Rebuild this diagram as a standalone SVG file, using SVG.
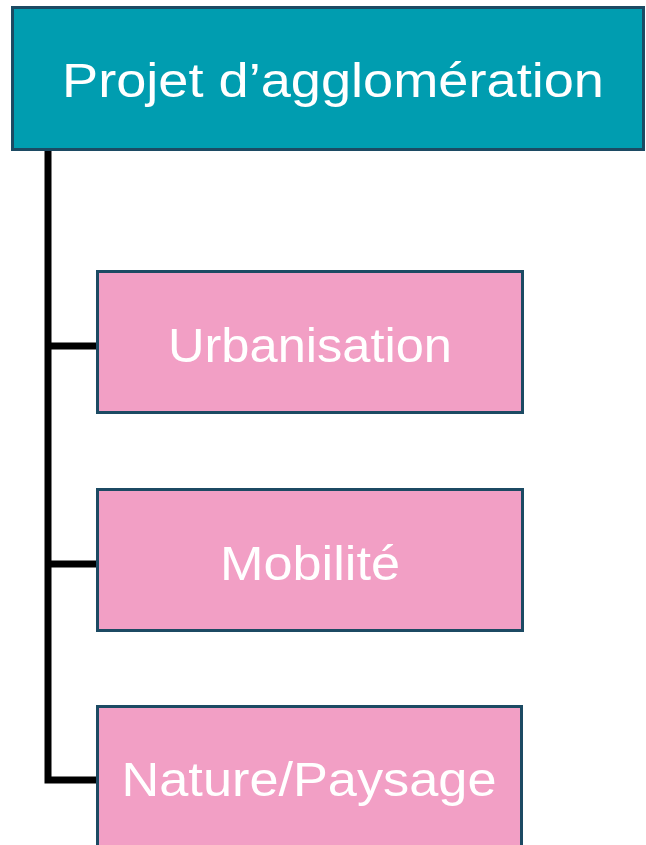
<svg xmlns="http://www.w3.org/2000/svg" width="646" height="845" viewBox="0 0 646 845">
<style>
.box{stroke:#1C4A63;stroke-width:3}
.root{fill:#009DB0}
.child{fill:#F29FC5}
.lbl{font-family:"Liberation Sans","DejaVu Sans",sans-serif;fill:#FFFFFF;font-size:49px}
.conn{stroke:#000;stroke-width:7;fill:none}
</style>
<rect width="646" height="845" fill="#FFFFFF"/>
<g id="connectors">
<path class="conn" d="M48,150 V780 H97"/>
<path class="conn" d="M48,346 H97"/>
<path class="conn" d="M48,564 H97"/>
</g>
<g id="root">
<rect class="box root" x="12.5" y="7.5" width="631" height="142"/>
<text class="lbl" x="333" y="97" text-anchor="middle" textLength="542" lengthAdjust="spacingAndGlyphs">Projet d’agglomération</text>
</g>
<g id="urbanisation">
<rect class="box child" x="97.5" y="271.5" width="425" height="141"/>
<text class="lbl" x="310" y="362" text-anchor="middle" textLength="284" lengthAdjust="spacingAndGlyphs">Urbanisation</text>
</g>
<g id="mobilite">
<rect class="box child" x="97.5" y="489.5" width="425" height="141"/>
<text class="lbl" x="310" y="580" text-anchor="middle" textLength="180" lengthAdjust="spacingAndGlyphs">Mobilité</text>
</g>
<g id="nature">
<rect class="box child" x="97.5" y="706.5" width="424" height="150"/>
<text class="lbl" x="309" y="796" text-anchor="middle" textLength="375" lengthAdjust="spacingAndGlyphs">Nature/Paysage</text>
</g>
</svg>
